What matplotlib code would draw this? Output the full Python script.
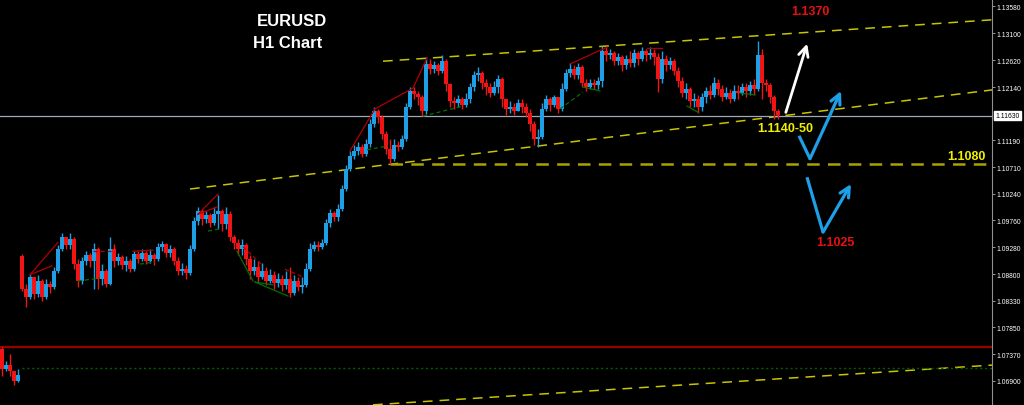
import matplotlib
matplotlib.use("Agg")
import matplotlib.pyplot as plt
import matplotlib.transforms as mtransforms
import numpy as np

plt.rcParams['lines.scale_dashes'] = False

# EURUSD H1 bars, open of first bar then close / high / low per bar
first_open = 1.0912
closes = [1.0854, 1.0839, 1.0875, 1.0845, 1.0868, 1.0839, 1.0863, 1.0857, 1.0886, 1.0925,
          1.0946, 1.0932, 1.0943, 1.0898, 1.0868, 1.0904, 1.0914, 1.0904, 1.0925, 1.0871,
          1.0886, 1.0863, 1.0925, 1.0904, 1.0911, 1.0896, 1.0904, 1.0889, 1.0916, 1.0907,
          1.0918, 1.0904, 1.0914, 1.0907, 1.0929, 1.0934, 1.0918, 1.0925, 1.0904, 1.0886,
          1.0889, 1.0882, 1.0925, 1.0975, 1.0993, 1.0979, 1.0986, 1.0971, 1.0987, 1.0993,
          1.0970, 1.0987, 1.0946, 1.0936, 1.0925, 1.0932, 1.0907, 1.0886, 1.0893, 1.0875,
          1.0886, 1.0868, 1.0879, 1.0864, 1.0871, 1.0861, 1.0871, 1.0846, 1.0868, 1.0857,
          1.0861, 1.0889, 1.0925, 1.0932, 1.0929, 1.0936, 1.0971, 1.0989, 1.0982, 1.0996,
          1.1032, 1.1068, 1.1091, 1.1100, 1.1107, 1.1094, 1.1112, 1.1148, 1.1171, 1.1160,
          1.1130, 1.1103, 1.1086, 1.1111, 1.1107, 1.1121, 1.1178, 1.1207, 1.1202, 1.1196,
          1.1171, 1.1255, 1.1246, 1.1253, 1.1243, 1.1260, 1.1219, 1.1189, 1.1185, 1.1193,
          1.1182, 1.1193, 1.1214, 1.1235, 1.1239, 1.1221, 1.1214, 1.1203, 1.1214, 1.1228,
          1.1193, 1.1175, 1.1178, 1.1171, 1.1185, 1.1178, 1.1168, 1.1148, 1.1121, 1.1125,
          1.1175, 1.1193, 1.1182, 1.1196, 1.1175, 1.1210, 1.1239, 1.1246, 1.1235, 1.1250,
          1.1221, 1.1214, 1.1221, 1.1218, 1.1225, 1.1278, 1.1271, 1.1275, 1.1260, 1.1268,
          1.1253, 1.1264, 1.1257, 1.1275, 1.1264, 1.1278, 1.1271, 1.1275, 1.1268, 1.1228,
          1.1264, 1.1253, 1.1260, 1.1243, 1.1225, 1.1203, 1.1210, 1.1189, 1.1193, 1.1178,
          1.1196, 1.1207, 1.1200, 1.1221, 1.1210, 1.1196, 1.1203, 1.1193, 1.1207, 1.1203,
          1.1214, 1.1207, 1.1218, 1.1210, 1.1271, 1.1221, 1.1218, 1.1196, 1.1171, 1.1164]
highs = [1.0916, 1.0863, 1.0880, 1.0875, 1.0879, 1.0871, 1.0871, 1.0868, 1.0893, 1.0932,
         1.0954, 1.0946, 1.0954, 1.0946, 1.0907, 1.0911, 1.0921, 1.0918, 1.0936, 1.0929,
         1.0898, 1.0889, 1.0946, 1.0934, 1.0918, 1.0914, 1.0912, 1.0907, 1.0921, 1.0921,
         1.0925, 1.0921, 1.0925, 1.0918, 1.0936, 1.0939, 1.0936, 1.0932, 1.0929, 1.0911,
         1.0900, 1.0896, 1.0932, 1.0982, 1.1000, 1.0996, 1.0993, 1.0989, 1.1000, 1.1021,
         1.0996, 1.1000, 1.0993, 1.0950, 1.0943, 1.0943, 1.0936, 1.0914, 1.0907, 1.0904,
         1.0900, 1.0893, 1.0889, 1.0886, 1.0882, 1.0879, 1.0886, 1.0893, 1.0879, 1.0875,
         1.0875, 1.0900, 1.0936, 1.0939, 1.0939, 1.0943, 1.0979, 1.0996, 1.0993, 1.1005,
         1.1039, 1.1075, 1.1100, 1.1111, 1.1116, 1.1112, 1.1121, 1.1157, 1.1178, 1.1175,
         1.1164, 1.1136, 1.1121, 1.1121, 1.1118, 1.1128, 1.1185, 1.1214, 1.1214, 1.1207,
         1.1200, 1.1268, 1.1264, 1.1260, 1.1257, 1.1271, 1.1264, 1.1221, 1.1196, 1.1200,
         1.1196, 1.1203, 1.1221, 1.1243, 1.1250, 1.1243, 1.1228, 1.1221, 1.1225, 1.1235,
         1.1232, 1.1193, 1.1189, 1.1185, 1.1193, 1.1193, 1.1185, 1.1175, 1.1153, 1.1139,
         1.1185, 1.1200, 1.1196, 1.1200, 1.1196, 1.1221, 1.1246, 1.1257, 1.1253, 1.1257,
         1.1253, 1.1228, 1.1228, 1.1228, 1.1232, 1.1287, 1.1285, 1.1282, 1.1278, 1.1275,
         1.1271, 1.1271, 1.1278, 1.1282, 1.1278, 1.1285, 1.1282, 1.1285, 1.1282, 1.1275,
         1.1278, 1.1271, 1.1268, 1.1264, 1.1250, 1.1232, 1.1221, 1.1214, 1.1203, 1.1200,
         1.1203, 1.1214, 1.1218, 1.1232, 1.1228, 1.1218, 1.1214, 1.1210, 1.1218, 1.1218,
         1.1221, 1.1221, 1.1225, 1.1228, 1.1296, 1.1282, 1.1228, 1.1221, 1.1200, 1.1175]
lows = [1.0850, 1.0822, 1.0836, 1.0836, 1.0839, 1.0832, 1.0836, 1.0846, 1.0854, 1.0882,
        1.0921, 1.0925, 1.0925, 1.0889, 1.0857, 1.0863, 1.0896, 1.0893, 1.0854, 1.0854,
        1.0861, 1.0857, 1.0861, 1.0893, 1.0896, 1.0889, 1.0886, 1.0884, 1.0886, 1.0900,
        1.0904, 1.0898, 1.0900, 1.0896, 1.0904, 1.0921, 1.0911, 1.0911, 1.0896, 1.0879,
        1.0879, 1.0871, 1.0879, 1.0921, 1.0968, 1.0968, 1.0971, 1.0964, 1.0968, 1.0961,
        1.0957, 1.0961, 1.0939, 1.0925, 1.0914, 1.0914, 1.0896, 1.0871, 1.0879, 1.0864,
        1.0871, 1.0861, 1.0864, 1.0854, 1.0857, 1.0850, 1.0854, 1.0839, 1.0843, 1.0850,
        1.0846, 1.0857, 1.0886, 1.0921, 1.0921, 1.0925, 1.0932, 1.0964, 1.0975, 1.0975,
        1.0993, 1.1028, 1.1064, 1.1086, 1.1093, 1.1089, 1.1091, 1.1107, 1.1143, 1.1150,
        1.1121, 1.1094, 1.1077, 1.1082, 1.1100, 1.1103, 1.1118, 1.1175, 1.1193, 1.1182,
        1.1162, 1.1166, 1.1237, 1.1239, 1.1235, 1.1239, 1.1207, 1.1178, 1.1175, 1.1178,
        1.1175, 1.1178, 1.1185, 1.1207, 1.1225, 1.1210, 1.1200, 1.1196, 1.1200, 1.1203,
        1.1178, 1.1164, 1.1168, 1.1164, 1.1171, 1.1168, 1.1160, 1.1136, 1.1111, 1.1107,
        1.1121, 1.1171, 1.1171, 1.1178, 1.1168, 1.1171, 1.1207, 1.1232, 1.1228, 1.1228,
        1.1214, 1.1207, 1.1210, 1.1210, 1.1210, 1.1214, 1.1260, 1.1264, 1.1253, 1.1253,
        1.1243, 1.1246, 1.1250, 1.1250, 1.1253, 1.1260, 1.1260, 1.1264, 1.1253, 1.1205,
        1.1221, 1.1243, 1.1246, 1.1235, 1.1214, 1.1196, 1.1193, 1.1178, 1.1178, 1.1168,
        1.1171, 1.1185, 1.1193, 1.1196, 1.1200, 1.1189, 1.1193, 1.1185, 1.1189, 1.1193,
        1.1200, 1.1196, 1.1200, 1.1200, 1.1207, 1.1193, 1.1207, 1.1185, 1.1157, 1.1157]

# a few older bars left over at the bottom left corner
old_open = 1.0746
old_closes = [1.0711, 1.0718, 1.0707, 1.0690, 1.0700]
old_highs = [1.0750, 1.0725, 1.0738, 1.0707, 1.0711]
old_lows = [1.0698, 1.0707, 1.0698, 1.0682, 1.0688]

# price scale
tick_vals = [1.1358, 1.1310, 1.1262, 1.1214, 1.1119, 1.1071, 1.1024,
             1.0976, 1.0928, 1.0880, 1.0833, 1.0785, 1.0737, 1.0690]
bid = 1.1163

# drawn objects (bar index, price)
upper_channel = ([90.25, 242.75], [1.1260, 1.1334])
lower_channel = ([42, 242.75], [1.1032, 1.1209])
bottom_channel = ([87.75, 242.75], [1.0647, 1.0718])
level_1080 = ([92, 242.75], [1.1076, 1.1076])
red_level = 1.0750
green_level = ([0, 242.75], [1.0713, 1.0713])

# zigzag pieces: (i0, p0, i1, p1)
red_solid = [(2, 1.0879, 9, 1.0937), (2, 1.0879, 7.5, 1.0895), (27.75, 1.0921, 32.75, 1.0923),
             (44, 1.0987, 49, 1.1023), (44, 1.0987, 48.75, 1.1000), (82, 1.1100, 88.25, 1.1175),
             (88.25, 1.1175, 97.75, 1.1212), (97.75, 1.1212, 101.25, 1.1266),
             (137, 1.1255, 146.25, 1.1285), (156.25, 1.1284, 160, 1.1284)]
red_dashed = [(17.75, 1.0921, 22.5, 1.0921), (55.25, 1.0929, 60.25, 1.0895),
              (65.75, 1.0889, 70.25, 1.0875)]
green_dashed = [(14, 1.0868, 19.5, 1.0873), (29.5, 1.0898, 33.25, 1.0902),
                (46.5, 1.0957, 49.5, 1.0961), (86.25, 1.1102, 91.5, 1.1109),
                (100.25, 1.1162, 110.25, 1.1180), (134.5, 1.1175, 140.25, 1.1205)]
green_solid = [(53.75, 1.0921, 57.75, 1.0868), (58.25, 1.0866, 66.5, 1.0841),
               (58.25, 1.0866, 62.75, 1.0861), (140.25, 1.1214, 144.5, 1.1207),
               (166.25, 1.1180, 169, 1.1169), (179.5, 1.1203, 183.25, 1.1200)]

# forecast arrows
white_arrow = ([190.75, 196.5], [1.1164, 1.1296])
blue_path1 = ([194.25, 197, 204.75], [1.1127, 1.1086, 1.1207])
blue_path2 = ([196.25, 200.25, 207.25], [1.1053, 1.0955, 1.1041])

UP = '#1e9fe6'
DOWN = '#f01414'
YEL = '#c8c400'


def draw_bars(ax, x, o, h, l, c):
    o = np.asarray(o); h = np.asarray(h); l = np.asarray(l); c = np.asarray(c)
    cols = np.where(c >= o, UP, DOWN)
    ax.vlines(x, l, h, colors=cols, lw=1.0, zorder=3)
    body = c - o
    body = np.where(np.abs(body) < 0.00006, 0.00006, body)
    ax.bar(x, body, bottom=o, width=0.8, color=cols, linewidth=0, zorder=3)


fig = plt.figure(figsize=(10.24, 4.06), dpi=100, facecolor='black')
ax = fig.add_axes([0, 0, 992 / 1024, 1])
ax.set_facecolor('black')

idx = np.arange(len(closes))
opens = [first_open] + closes[:-1]
draw_bars(ax, idx, opens, highs, lows, closes)

old_idx = np.arange(-len(old_closes), 0)
old_opens = [old_open] + old_closes[:-1]
draw_bars(ax, old_idx, old_opens, old_highs, old_lows, old_closes)

# zigzag overlay
for i0, p0, i1, p1 in red_solid:
    ax.plot([i0, i1], [p0, p1], color='#b00000', lw=0.9, zorder=4)
for i0, p0, i1, p1 in red_dashed:
    ax.plot([i0, i1], [p0, p1], color='#b00000', lw=0.9, ls=(0, (3, 2)), zorder=4)
for i0, p0, i1, p1 in green_dashed:
    ax.plot([i0, i1], [p0, p1], color='#007000', lw=0.9, ls=(0, (3, 2)), zorder=4)
for i0, p0, i1, p1 in green_solid:
    ax.plot([i0, i1], [p0, p1], color='#007000', lw=0.9, zorder=4)

# channel and levels
ax.plot(*upper_channel, color=YEL, lw=1.1, ls=(0, (7, 5)), zorder=2)
ax.plot(*lower_channel, color=YEL, lw=1.1, ls=(0, (7, 5)), zorder=2)
ax.plot(*bottom_channel, color=YEL, lw=1.1, ls=(0, (7, 5)), zorder=2)
ax.plot(*level_1080, color='#aaa200', lw=1.8, ls=(0, (9, 6)), zorder=2)
ax.axhline(red_level, color='#9a0000', lw=1.6, zorder=2)
ax.plot(*green_level, color='#006000', lw=1.0, ls=(0, (1.5, 2)), zorder=2)
ax.axhline(bid, color='#a0a8b8', lw=0.9, zorder=2)

# arrows
ax.annotate('', xy=(white_arrow[0][1], white_arrow[1][1]),
            xytext=(white_arrow[0][0], white_arrow[1][0]),
            arrowprops=dict(arrowstyle='->,head_length=0.7,head_width=0.35',
                            color='white', lw=2.0), zorder=6)
for px, pp in (blue_path1, blue_path2):
    ax.plot(px[:2], pp[:2], color=UP, lw=2.3, solid_capstyle='butt', zorder=6)
    ax.annotate('', xy=(px[2], pp[2]), xytext=(px[1], pp[1]),
                arrowprops=dict(arrowstyle='->,head_length=0.7,head_width=0.35',
                                color=UP, lw=2.3, shrinkA=0, shrinkB=0), zorder=6)

# labels on the chart
lab = dict(fontsize=9, fontweight='bold', family='Liberation Sans',
           ha='center', va='center', zorder=7)
ax.text(197, 1.1350, '1.1370', color='#e81010', **lab)
ax.text(190.75, 1.1141, '1.1140-50', color='#f0f000', **lab)
ax.text(236, 1.1091, '1.1080', color='#f0f000', **lab)
ax.text(203.25, 1.0937, '1.1025', color='#e81010', **lab)

fig.text(257 / 1024, 1 - 21 / 406, 'EURUSD', color='white', fontsize=12,
         fontweight='bold', family='Liberation Sans', ha='left', va='center')
fig.text(253 / 1024, 1 - 44 / 406, 'H1 Chart', color='white', fontsize=12,
         fontweight='bold', family='Liberation Sans', ha='left', va='center')

ax.set_xlim(-5.5, 242.5)
ax.set_ylim(1.06467, 1.1371)

ax.yaxis.tick_right()
ax.set_yticks(tick_vals)
ax.set_yticklabels([f'{v:.5f}' for v in tick_vals])
ax.tick_params(axis='y', colors='#b0b0b0', labelcolor='white', labelsize=4.9,
               length=2.5, width=0.6, pad=1.0)
for t in ax.get_yticklabels():
    t.set_family('Liberation Sans')
ax.set_xticks([])
for s in ('top', 'bottom', 'left'):
    ax.spines[s].set_visible(False)
ax.spines['right'].set_color('#909090')
ax.spines['right'].set_linewidth(0.8)

# current price box
trans = mtransforms.blended_transform_factory(ax.transAxes, ax.transData)
ax.annotate('1.11630', xy=(1.0, bid), xycoords=trans, xytext=(2.5, 0),
            textcoords='offset points', fontsize=4.9, family='Liberation Sans',
            color='black', ha='left', va='center', annotation_clip=False,
            bbox=dict(boxstyle='square,pad=0.2', fc='white', ec='white'))

fig.savefig('out.png', dpi=100, facecolor='black')
